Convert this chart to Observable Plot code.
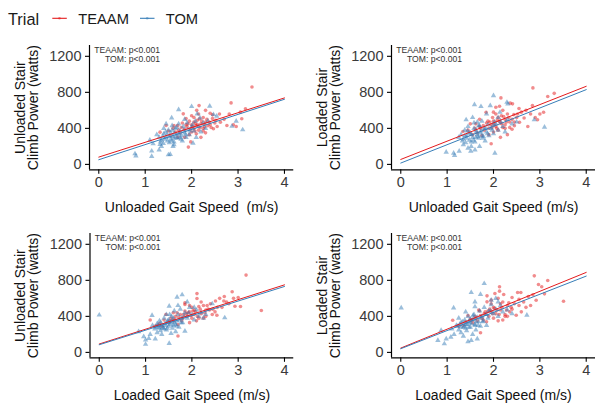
<!DOCTYPE html>
<html><head><meta charset="utf-8">
<script src="https://cdn.jsdelivr.net/npm/d3@7"></script>
<script src="https://cdn.jsdelivr.net/npm/@observablehq/plot@0.6"></script>
<style>
body{margin:0;background:#fff;}
#chart{position:relative;width:595px;height:403px;font-family:"Liberation Sans",Arial,sans-serif;overflow:hidden;}
#chart > svg{position:absolute;}
</style></head><body><div id="chart"></div>
<script>
// ---- data ----
const trials = ["TEAAM", "TOM"];
const trialColors = ["#E41A1C", "#377EB8"];
const xTicks = [0, 1, 2, 3, 4];
const yTicks = [0, 400, 800, 1200];
const xLabels = ["Unloaded Gait Speed\u00a0 (m/s)", "Unloaded Gait Speed (m/s)", "Loaded Gait Speed (m/s)", "Loaded Gait Speed (m/s)"];
const yLabels = ["Unloaded Stair\nClimb Power (watts)", "Loaded Stair\nClimb Power (watts)", "Unloaded Stair\nClimb Power (watts)", "Loaded Stair\nClimb Power (watts)"];
const annotText = ["TEAAM: p<0.001", "TOM: p<0.001"];
// fitted lines: y at x=0 and at x=4, per panel
const fitX = [0, 4];
const fitTeaam = [[81, 738], [55, 867], [93, 750], [48, 888]];
const fitTom = [[52, 723], [15, 830], [85, 732], [41, 847]];

const p1Teaam = [[3.30,860],[2.85,683],[2.16,653],[2.11,600],[1.82,561],[2.15,560],[2.40,568],[2.45,550],[2.81,560],[3.08,506],[3.16,617],[2.76,432],[2.96,421],[2.62,469],[2.47,395],[1.93,192],[1.45,432],[1.32,358],[2.30,600],[2.25,520],[2.05,520],[1.95,480],[2.00,440],[2.10,430],[2.20,450],[2.30,470],[2.35,430],[2.05,400],[1.90,420],[1.85,390],[2.15,380],[2.25,400],[2.40,440],[1.80,460],[1.70,430],[1.75,350],[1.60,400],[1.65,360],[2.00,360],[2.10,340],[2.30,350],[2.50,460],[2.55,420],[2.20,300],[1.95,330],[1.85,300],[1.55,320],[1.70,300],[2.60,560],[2.70,500],[2.90,440],[3.05,580],[1.98,250],[2.05,470],[2.28,415],[1.88,510],[1.50,370],[2.12,490],[2.45,510],
  [1.92,450],[2.02,420],[2.08,455],[2.18,410],[2.22,480],[1.97,395],[2.13,440],[2.27,445],[1.78,410],[1.88,440],[2.33,500],[2.38,470],[2.07,370],[2.17,505],[1.72,380],[2.42,410],[2.52,490],[1.62,430],[2.00,540],[2.25,370]];
const p1Tom = [[0.78,118],[0.80,95],[1.14,148],[1.14,89],[1.17,229],[1.32,221],[1.54,111],[1.50,107],[1.72,607],[2.00,642],[2.39,646],[1.57,517],[2.18,517],[2.54,535],[2.47,554],[2.87,425],[2.96,480],[3.10,384],[2.03,236],[1.39,233],[1.10,270],[1.30,300],[1.35,270],[1.40,340],[1.45,300],[1.48,260],[1.50,380],[1.55,350],[1.55,280],[1.60,310],[1.62,250],[1.65,400],[1.68,330],[1.70,290],[1.72,450],[1.75,370],[1.78,320],[1.80,260],[1.82,420],[1.85,350],[1.88,300],[1.90,460],[1.92,390],[1.95,330],[2.00,410],[2.05,370],[2.08,480],[2.10,300],[2.15,420],[2.20,360],[2.25,460],[2.30,400],[2.35,480],[1.40,400],[1.35,200],[1.60,200],[1.25,330],[1.45,450],[1.58,430],[1.62,220],[1.85,500],[2.12,560],[1.30,160],
  [1.42,280],[1.47,330],[1.52,310],[1.57,260],[1.63,350],[1.67,300],[1.73,340],[1.77,280],[1.83,380],[1.52,240],[1.38,310],[1.58,380],[1.68,410],[1.87,330],[1.97,370],[1.44,360],[1.62,290],[1.75,300],[2.02,440],[1.33,250]];
const p2Teaam = [[2.85,849],[3.17,753],[3.31,789],[3.08,579],[2.95,495],[2.74,421],[2.84,653],[2.41,672],[2.36,680],[2.16,738],[2.13,646],[2.05,634],[1.84,579],[1.95,229],[1.34,365],[2.56,468],[2.66,515],[2.44,553],[2.20,600],[2.30,560],[2.10,520],[2.00,480],[1.95,440],[2.05,420],[2.15,460],[2.25,500],[2.35,470],[2.45,430],[2.50,520],[2.60,580],[2.70,600],[2.80,560],[1.90,400],[1.85,460],[1.80,380],[1.70,420],[1.65,350],[1.75,320],[1.60,400],[2.00,360],[2.10,380],[2.20,410],[2.30,330],[2.40,390],[1.55,330],[1.50,450],[1.45,380],[2.15,300],[1.90,330],[2.25,440],[2.05,560],[1.98,520],[2.55,620],[3.00,560],[2.90,520],[1.70,500],[2.35,410],
  [1.92,470],[2.02,440],[2.08,490],[2.18,450],[2.22,530],[1.97,410],[2.13,480],[2.28,470],[1.78,430],[1.88,480],[2.33,520],[2.40,500],[2.07,400],[2.17,540],[1.72,400],[2.45,470],[2.52,560],[1.62,450],[2.00,580],[2.25,400]];
const p2Tom = [[2.00,764],[1.59,664],[1.73,642],[1.93,653],[2.14,579],[1.41,495],[0.98,136],[1.16,100],[1.14,125],[1.26,147],[1.51,147],[2.03,125],[2.88,495],[3.10,413],[2.29,690],[2.31,670],[1.30,330],[1.35,280],[1.38,380],[1.40,240],[1.42,320],[1.45,420],[1.48,270],[1.50,350],[1.52,200],[1.55,300],[1.58,460],[1.60,250],[1.62,380],[1.65,330],[1.68,290],[1.70,430],[1.72,350],[1.75,480],[1.78,310],[1.80,400],[1.82,260],[1.85,360],[1.88,440],[1.90,320],[1.95,400],[2.00,340],[2.05,450],[2.10,380],[2.15,480],[2.20,420],[2.25,360],[2.30,500],[2.40,450],[2.50,470],[1.45,180],[1.60,160],[1.35,220],[1.70,200],[1.55,520],[1.85,560],[2.10,520],[1.25,300],[1.65,470],[2.00,440],
  [1.42,290],[1.47,350],[1.52,330],[1.57,270],[1.63,360],[1.67,310],[1.73,370],[1.77,290],[1.83,400],[1.52,250],[1.38,320],[1.58,400],[1.68,430],[1.87,340],[1.97,380],[1.44,370],[1.62,300],[1.75,320],[2.02,470],[1.33,260]];
const p3Teaam = [[3.17,858],[3.50,465],[2.87,673],[2.93,513],[2.69,571],[2.51,571],[2.11,653],[2.11,598],[1.85,550],[1.85,532],[1.44,421],[1.10,360],[1.70,182],[2.54,413],[2.44,421],[2.30,470],[2.20,430],[2.00,500],[1.95,450],[1.90,400],[2.05,420],[2.15,380],[2.25,520],[2.35,480],[2.40,540],[2.60,600],[2.75,560],[2.90,600],[3.00,610],[2.80,540],[2.65,500],[1.80,380],[1.75,420],[1.60,350],[1.65,400],[1.55,380],[1.50,330],[1.35,290],[1.30,320],[1.20,290],[1.40,360],[1.70,310],[1.95,330],[2.10,350],[2.30,400],[2.50,450],[2.05,470],[1.85,460],[1.25,300],[2.45,480],[2.20,560],[2.00,380],[1.60,440],[2.70,620],[3.05,510],
  [1.82,420],[1.92,440],[1.98,410],[2.08,450],[2.12,400],[1.72,390],[2.02,460],[2.18,480],[1.62,370],[1.88,430],[2.28,440],[2.38,470],[1.78,350],[2.15,510],[1.52,350],[2.33,520],[2.55,500],[1.68,440],[1.95,520],[2.25,380]];
const p3Tom = [[0.00,415],[1.79,640],[1.68,614],[1.51,514],[1.51,99],[1.00,90],[1.00,137],[0.96,175],[1.07,155],[0.85,231],[1.21,150],[2.71,384],[2.44,540],[1.14,410],[1.85,235],[1.20,260],[1.25,320],[1.28,280],[1.30,350],[1.32,240],[1.35,300],[1.38,270],[1.40,380],[1.42,320],[1.45,250],[1.48,350],[1.50,290],[1.52,420],[1.55,330],[1.58,270],[1.60,380],[1.62,460],[1.65,310],[1.68,350],[1.70,420],[1.72,280],[1.75,480],[1.78,380],[1.80,330],[1.85,440],[1.90,380],[1.95,500],[2.00,420],[2.05,360],[2.10,470],[2.15,400],[2.20,440],[2.25,380],[2.30,420],[1.10,200],[1.35,200],[1.45,420],[1.25,220],[1.55,210],[1.65,230],[1.70,520],[1.90,560],[2.05,500],[1.15,300],
  [1.27,300],[1.33,330],[1.37,280],[1.43,300],[1.47,270],[1.53,310],[1.57,350],[1.63,330],[1.67,290],[1.73,360],[1.40,260],[1.50,360],[1.60,300],[1.77,330],[1.83,400],[1.22,280],[1.46,330],[1.56,400],[1.93,440],[1.30,270]];
const p4Teaam = [[2.88,850],[3.17,798],[2.97,754],[3.04,728],[3.51,568],[2.92,579],[2.52,665],[2.59,665],[2.13,728],[2.13,680],[2.22,643],[2.03,654],[1.86,628],[1.86,561],[1.12,357],[1.72,218],[2.49,413],[2.40,480],[2.30,520],[2.20,560],[2.10,600],[2.00,500],[1.95,460],[2.05,430],[2.15,470],[2.25,420],[2.35,450],[2.45,540],[2.55,590],[2.65,560],[2.75,620],[2.85,640],[2.70,500],[1.90,400],[1.80,430],[1.75,380],[1.65,350],[1.60,400],[1.55,330],[1.50,370],[1.40,340],[1.35,300],[1.25,290],[1.70,460],[1.85,340],[2.00,380],[2.10,350],[2.30,400],[2.60,450],[2.80,520],[1.95,580],[2.40,610],[1.45,410],[3.10,650],[2.20,360],
  [1.82,450],[1.92,480],[1.98,430],[2.08,470],[2.12,420],[1.72,410],[2.02,490],[2.18,500],[1.62,380],[1.88,460],[2.28,470],[2.38,500],[1.78,360],[2.15,540],[1.52,360],[2.33,550],[2.55,520],[1.68,470],[1.95,540],[2.25,400]];
const p4Tom = [[0.01,494],[1.80,765],[1.14,494],[1.60,506],[1.72,643],[1.52,665],[0.87,244],[0.80,133],[0.94,96],[1.08,170],[0.98,150],[1.30,220],[1.52,133],[2.72,413],[1.45,120],[1.10,260],[1.20,300],[1.25,250],[1.30,330],[1.35,280],[1.38,360],[1.40,310],[1.42,240],[1.45,400],[1.48,330],[1.50,280],[1.55,360],[1.58,420],[1.60,300],[1.62,250],[1.65,390],[1.68,340],[1.70,460],[1.72,290],[1.75,400],[1.78,350],[1.80,500],[1.85,420],[1.88,380],[1.90,460],[1.95,530],[2.00,430],[2.05,480],[2.10,400],[2.15,520],[2.20,450],[2.30,470],[2.40,430],[1.15,200],[1.35,180],[1.55,200],[1.65,150],[1.95,580],[2.05,600],[1.25,380],[1.85,300],[2.10,560],[1.40,450],[1.60,560],
  [1.27,310],[1.33,340],[1.37,290],[1.43,310],[1.47,280],[1.53,320],[1.57,370],[1.63,340],[1.67,300],[1.73,380],[1.40,270],[1.50,370],[1.60,310],[1.77,340],[1.83,420],[1.22,290],[1.46,340],[1.56,410],[1.93,460],[1.30,280]];

const panelTeaam = [p1Teaam, p2Teaam, p3Teaam, p4Teaam];
const panelTom = [p1Tom, p2Tom, p3Tom, p4Tom];

// ---- layout ----
const chart = document.getElementById("chart");
const FONT = "'Liberation Sans', Arial, Helvetica, sans-serif";
const slots = [
  {left: 0, top: 40, width: 297, ml: 89, mr: 3.75},
  {left: 300, top: 40, width: 295, ml: 91, mr: 0},
  {left: 0, top: 228, width: 297, ml: 89.5, mr: 3.75},
  {left: 300, top: 228, width: 295, ml: 91, mr: 0}
];

function fitLine(fit, trial) {
  return fitX.map((x, i) => ({x, y: fit[i], trial}));
}
const fmt = d => String(d);

slots.forEach((s, i) => {
  const lines = [...fitLine(fitTeaam[i], trials[0]), ...fitLine(fitTom[i], trials[1])];
  const svg = Plot.plot({
    width: s.width, height: 180,
    marginLeft: s.ml, marginRight: s.mr, marginTop: 5, marginBottom: 50.7,
    x: {domain: [-0.2, 4.2]},
    y: {domain: [-60, 1320]},
    color: {domain: trials, range: trialColors},
    style: {fontFamily: FONT, background: "transparent", overflow: "visible"},
    marks: [
      Plot.dot(panelTeaam[i], {x: d => d[0], y: d => d[1], r: 1.8, symbol: "circle", fill: trialColors[0], fillOpacity: 0.5, stroke: "none"}),
      Plot.dot(panelTom[i], {x: d => d[0], y: d => d[1], r: 2.0, symbol: "triangle", fill: trialColors[1], fillOpacity: 0.5, stroke: "none"}),
      Plot.line(lines, {x: "x", y: "y", z: "trial", stroke: "trial", strokeWidth: 1}),
      Plot.ruleX([-0.2], {stroke: "#000", strokeWidth: 1.2}),
      Plot.ruleY([-60], {stroke: "#000", strokeWidth: 1.2}),
      Plot.axisX({ticks: xTicks, tickFormat: fmt, tickSize: 4.5, tickPadding: 2.5, fontSize: 14.5, fill: "#3a3a3a", stroke: "#000", strokeWidth: 1.1, label: null}),
      Plot.axisY({ticks: yTicks, tickFormat: fmt, tickSize: 4, tickPadding: 4, fontSize: 14.5, fill: "#3a3a3a", stroke: "#000", strokeWidth: 1.1, label: null}),
      Plot.text([xLabels[i]], {frameAnchor: "bottom", dy: 37.5, fontSize: 14, fill: "#111", textAnchor: "middle", lineAnchor: "middle"}),
      Plot.text([yLabels[i]], {frameAnchor: "left", dx: -62.5, rotate: -90, fontSize: 14, lineHeight: 0.95, fill: "#111", textAnchor: "middle", lineAnchor: "middle"}),
      Plot.text([annotText.join("\n")], {frameAnchor: "top-left", dx: 70.5, dy: 1.5, textAnchor: "end", lineAnchor: "top", fontSize: 8.6, lineHeight: 1.05, fill: "#333"})
    ]
  });
  svg.style.left = s.left + "px";
  svg.style.top = s.top + "px";
  chart.appendChild(svg);
});

// ---- legend (above the panels) ----
const ns = "http://www.w3.org/2000/svg";
const leg = document.createElementNS(ns, "svg");
leg.setAttribute("width", 240); leg.setAttribute("height", 36);
leg.style.left = "0px"; leg.style.top = "0px";
leg.style.fontFamily = FONT;
function el(tag, attrs, text) {
  const e = document.createElementNS(ns, tag);
  for (const k in attrs) e.setAttribute(k, attrs[k]);
  if (text != null) e.textContent = text;
  leg.appendChild(e);
  return e;
}
el("text", {x: 8, y: 24.5, "font-size": 16.3, fill: "#1a1a1a"}, "Trial");
const keyX = [52.3, 140];
const txtX = [78.3, 165.7];
trials.forEach((t, i) => {
  el("line", {x1: keyX[i], x2: keyX[i] + 14.5, y1: 18.3, y2: 18.3, stroke: trialColors[i], "stroke-width": 1.1});
  el("circle", {cx: keyX[i] + 7.2, cy: 18.3, r: 1.3, fill: trialColors[i], "fill-opacity": 0.5});
  el("text", {x: txtX[i], y: 24.2, "font-size": 14.7, fill: "#1a1a1a"}, t);
});
chart.appendChild(leg);
</script></body></html>
